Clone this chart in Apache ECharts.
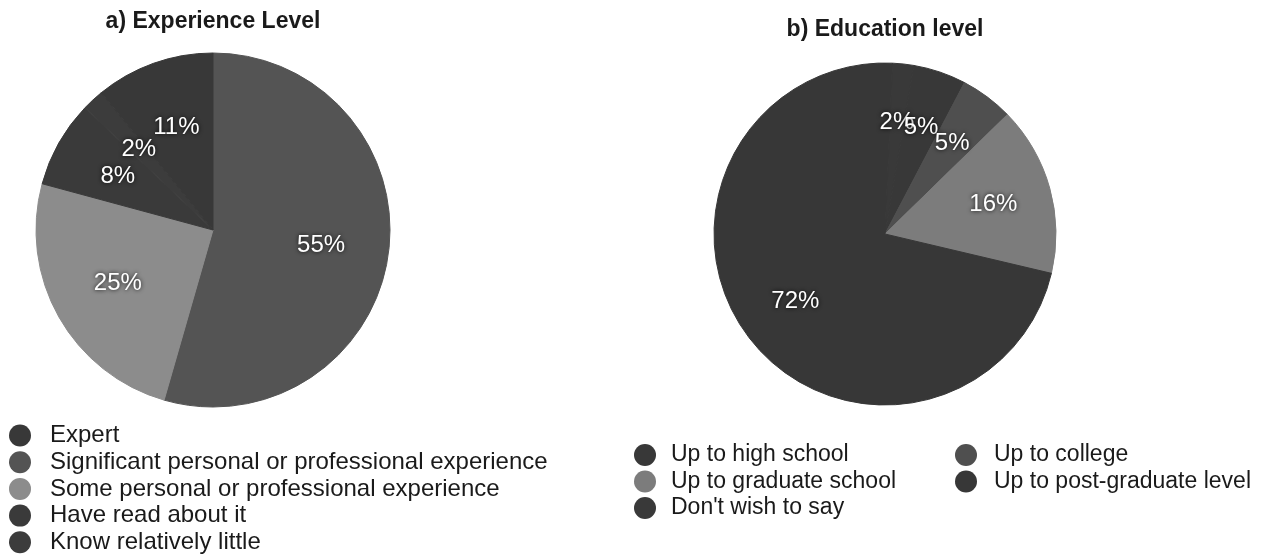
<!DOCTYPE html>
<html>
<head>
<meta charset="utf-8">
<script src="https://cdn.jsdelivr.net/npm/echarts@6/dist/echarts.min.js"></script>
<style>
html,body{margin:0;padding:0;background:#fff;}
#chart{width:1276px;height:560px;}
</style>
</head>
<body>
<div id="chart"></div>
<script>
// ---- data ----
const expTitle = 'a) Experience Level';
const expCategories = ['Expert', 'Significant personal or professional experience', 'Some personal or professional experience', 'Have read about it', 'Know relatively little'];
const expValues = [11, 55, 25, 8, 2];
const expPieOrder = [1, 2, 3, 4, 0]; // clockwise from 12 o'clock

const eduTitle = 'b) Education level';
const eduCategories = ['Up to high school', 'Up to college', 'Up to graduate school', 'Up to post-graduate level', "Don't wish to say"];
const eduValues = [5, 5, 16, 72, 2];
const eduPieOrder = [4, 0, 1, 2, 3];
const eduLegendCol1 = ['Up to high school', 'Up to graduate school', "Don't wish to say"];
const eduLegendCol2 = ['Up to college', 'Up to post-graduate level'];

// ---- styles ----
const expColors = ['#383838', '#545454', '#8c8c8c', '#3a3a3a', '#3c3c3c'];
const eduColors = ['#383838', '#4f4f4f', '#7c7c7c', '#373737', '#393939'];
const FONT = '"Liberation Sans", Arial, Helvetica, sans-serif';

function pieData(cats, vals, cols, order) {
  return order.map(i => ({ name: cats[i], value: vals[i],
    itemStyle: { color: cols[i], borderColor: cols[i], borderWidth: 1 } }));
}
function legendData(names, cats, cols) {
  return names.map(n => ({ name: n, itemStyle: { color: cols[cats.indexOf(n)], borderWidth: 0 } }));
}

const labelStyle = {
  show: true,
  position: 'inside',
  formatter: p => p.value + '%',
  color: '#ffffff',
  fontFamily: FONT,
  fontSize: 24,
  textShadowColor: 'rgba(0,0,0,0.9)',
  textShadowBlur: 4
};

const expR = 177, eduR = 171;

const chart = echarts.init(document.getElementById('chart'), null, { renderer: 'canvas' });
chart.setOption({
  backgroundColor: '#ffffff',
  animation: false,
  title: [
    { text: expTitle, left: 213, top: 10.5, padding: 0, textAlign: 'center',
      textStyle: { fontFamily: FONT, fontWeight: 'bold', fontSize: 23, color: '#1a1a1a' } },
    { text: eduTitle, left: 885, top: 18.5, padding: 0, textAlign: 'center',
      textStyle: { fontFamily: FONT, fontWeight: 'bold', fontSize: 23, color: '#1a1a1a' } }
  ],
  legend: [
    { orient: 'vertical', left: 9, top: 423.5, padding: 0, icon: 'circle',
      itemWidth: 22, itemHeight: 22, itemGap: 2.7, selectedMode: false,
      data: legendData(expCategories, expCategories, expColors),
      textStyle: { fontFamily: FONT, fontSize: 24, color: '#1a1a1a', padding: [0, 0, 0, 14] } },
    { orient: 'vertical', left: 634, top: 443.5, padding: 0, icon: 'circle',
      itemWidth: 22, itemHeight: 22, itemGap: 3.5, selectedMode: false,
      data: legendData(eduLegendCol1, eduCategories, eduColors),
      textStyle: { fontFamily: FONT, fontSize: 23, color: '#1a1a1a', padding: [0, 0, 0, 10] } },
    { orient: 'vertical', left: 955, top: 443.5, padding: 0, icon: 'circle',
      itemWidth: 22, itemHeight: 22, itemGap: 3.5, selectedMode: false,
      data: legendData(eduLegendCol2, eduCategories, eduColors),
      textStyle: { fontFamily: FONT, fontSize: 23, color: '#1a1a1a', padding: [0, 0, 0, 12] } }
  ],
  series: [
    { type: 'pie', name: 'exp', center: [213, 230], radius: expR, startAngle: 90, clockwise: true,
      label: { show: false }, labelLine: { show: false }, emphasis: { disabled: true }, silent: true,
      data: pieData(expCategories, expValues, expColors, expPieOrder) },
    { type: 'pie', name: 'expLabels', center: [213, 230], radius: expR * 1.2, startAngle: 90, clockwise: true,
      avoidLabelOverlap: false, labelLayout: { hideOverlap: false },
      label: labelStyle, labelLine: { show: false }, emphasis: { disabled: true }, silent: true,
      itemStyle: { color: 'rgba(0,0,0,0)', borderWidth: 0 },
      data: expPieOrder.map(i => ({ name: expCategories[i], value: expValues[i] })) },
    { type: 'pie', name: 'edu', center: [885, 234], radius: eduR, startAngle: 87.5, clockwise: true,
      label: { show: false }, labelLine: { show: false }, emphasis: { disabled: true }, silent: true,
      data: pieData(eduCategories, eduValues, eduColors, eduPieOrder) },
    { type: 'pie', name: 'eduLabels', center: [885, 234], radius: eduR * 1.28, startAngle: 87.5, clockwise: true,
      avoidLabelOverlap: false, labelLayout: { hideOverlap: false },
      label: labelStyle, labelLine: { show: false }, emphasis: { disabled: true }, silent: true,
      itemStyle: { color: 'rgba(0,0,0,0)', borderWidth: 0 },
      data: eduPieOrder.map(i => ({ name: eduCategories[i], value: eduValues[i] })) }
  ]
});
</script>
</body>
</html>
